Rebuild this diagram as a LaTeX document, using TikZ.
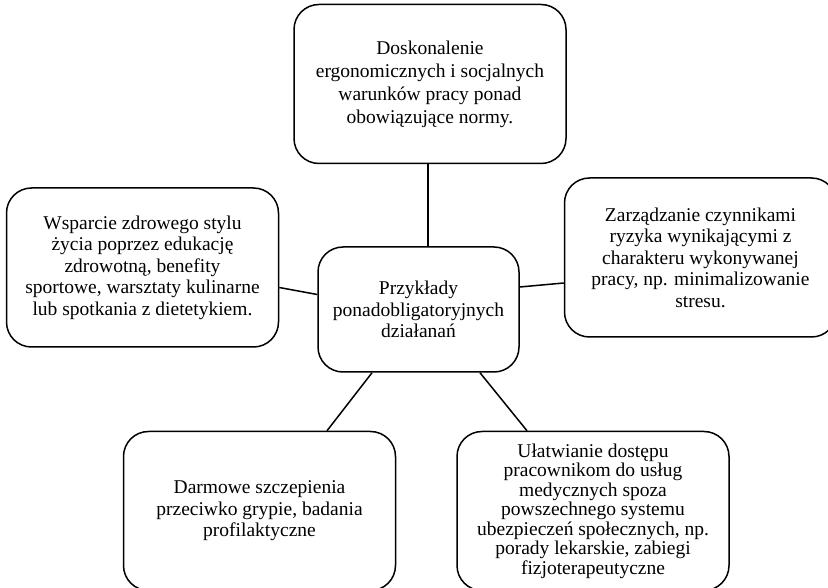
\documentclass[tikz,border=0pt]{standalone}
\usepackage{fontspec}
\setmainfont{Liberation Serif}
\usepackage{tikz}
\usetikzlibrary{positioning}

\begin{document}
\begin{tikzpicture}[
    x=1pt, y=1pt,
    box/.style={draw, line width=1.5pt, rounded corners=25pt, minimum width=272pt, minimum height=159pt, inner sep=0pt, align=center, font=\fontsize{19.5}{21.5}\selectfont},
    hub/.style={box, minimum width=201pt, minimum height=125pt},
    link/.style={line width=1.5pt},
]
\useasboundingbox (0,0) rectangle (828,587);
\node[hub] (ctr) at (418.5,277.5) {Przykłady\\ponadobligatoryjnych\\działanań};
\node[box, above=82pt of ctr, xshift=11.5pt, font=\fontsize{19.5}{23}\selectfont] (ergo) {Doskonalenie\\ergonomicznych i socjalnych\\warunków pracy ponad\\obowiązujące normy.};
\node[box, left=38pt of ctr, yshift=42pt] (style) {Wsparcie zdrowego stylu\\życia poprzez edukację\\zdrowotną, benefity\\sportowe, warsztaty kulinarne\\lub spotkania z dietetykiem.};
\node[box, right=44pt of ctr, yshift=52pt] (risk) {Zarządzanie czynnikami\\ryzyka wynikającymi z\\charakteru wykonywanej\\pracy, np. minimalizowanie\\stresu.};
\node[box, below=58pt of ctr, xshift=-159pt] (vacc) {Darmowe szczepienia\\przeciwko grypie, badania\\profilaktyczne};
\node[box, below=58pt of ctr, xshift=174.5pt, font=\fontsize{19.5}{19.5}\selectfont] (med) {Ułatwianie dostępu\\pracownikom do usług\\medycznych spoza\\powszechnego systemu\\ubezpieczeń społecznych, np.\\porady lekarskie, zabiegi\\fizjoterapeutyczne};
\draw[link] ([xshift=-2pt]ergo.south) -- ([xshift=-2pt]ergo.south |- ctr.north);
\draw[link] ([yshift=-20pt]style.east) -- ([yshift=15pt]ctr.west);
\draw[link] ([yshift=22.5pt]ctr.east) -- ([yshift=-25.5pt]risk.west);
\draw[link] ([xshift=-46.5pt]ctr.south) -- ([xshift=67.5pt]vacc.north);
\draw[link] ([xshift=61.5pt]ctr.south) -- ([xshift=-66pt]med.north);
\end{tikzpicture}
\end{document}
